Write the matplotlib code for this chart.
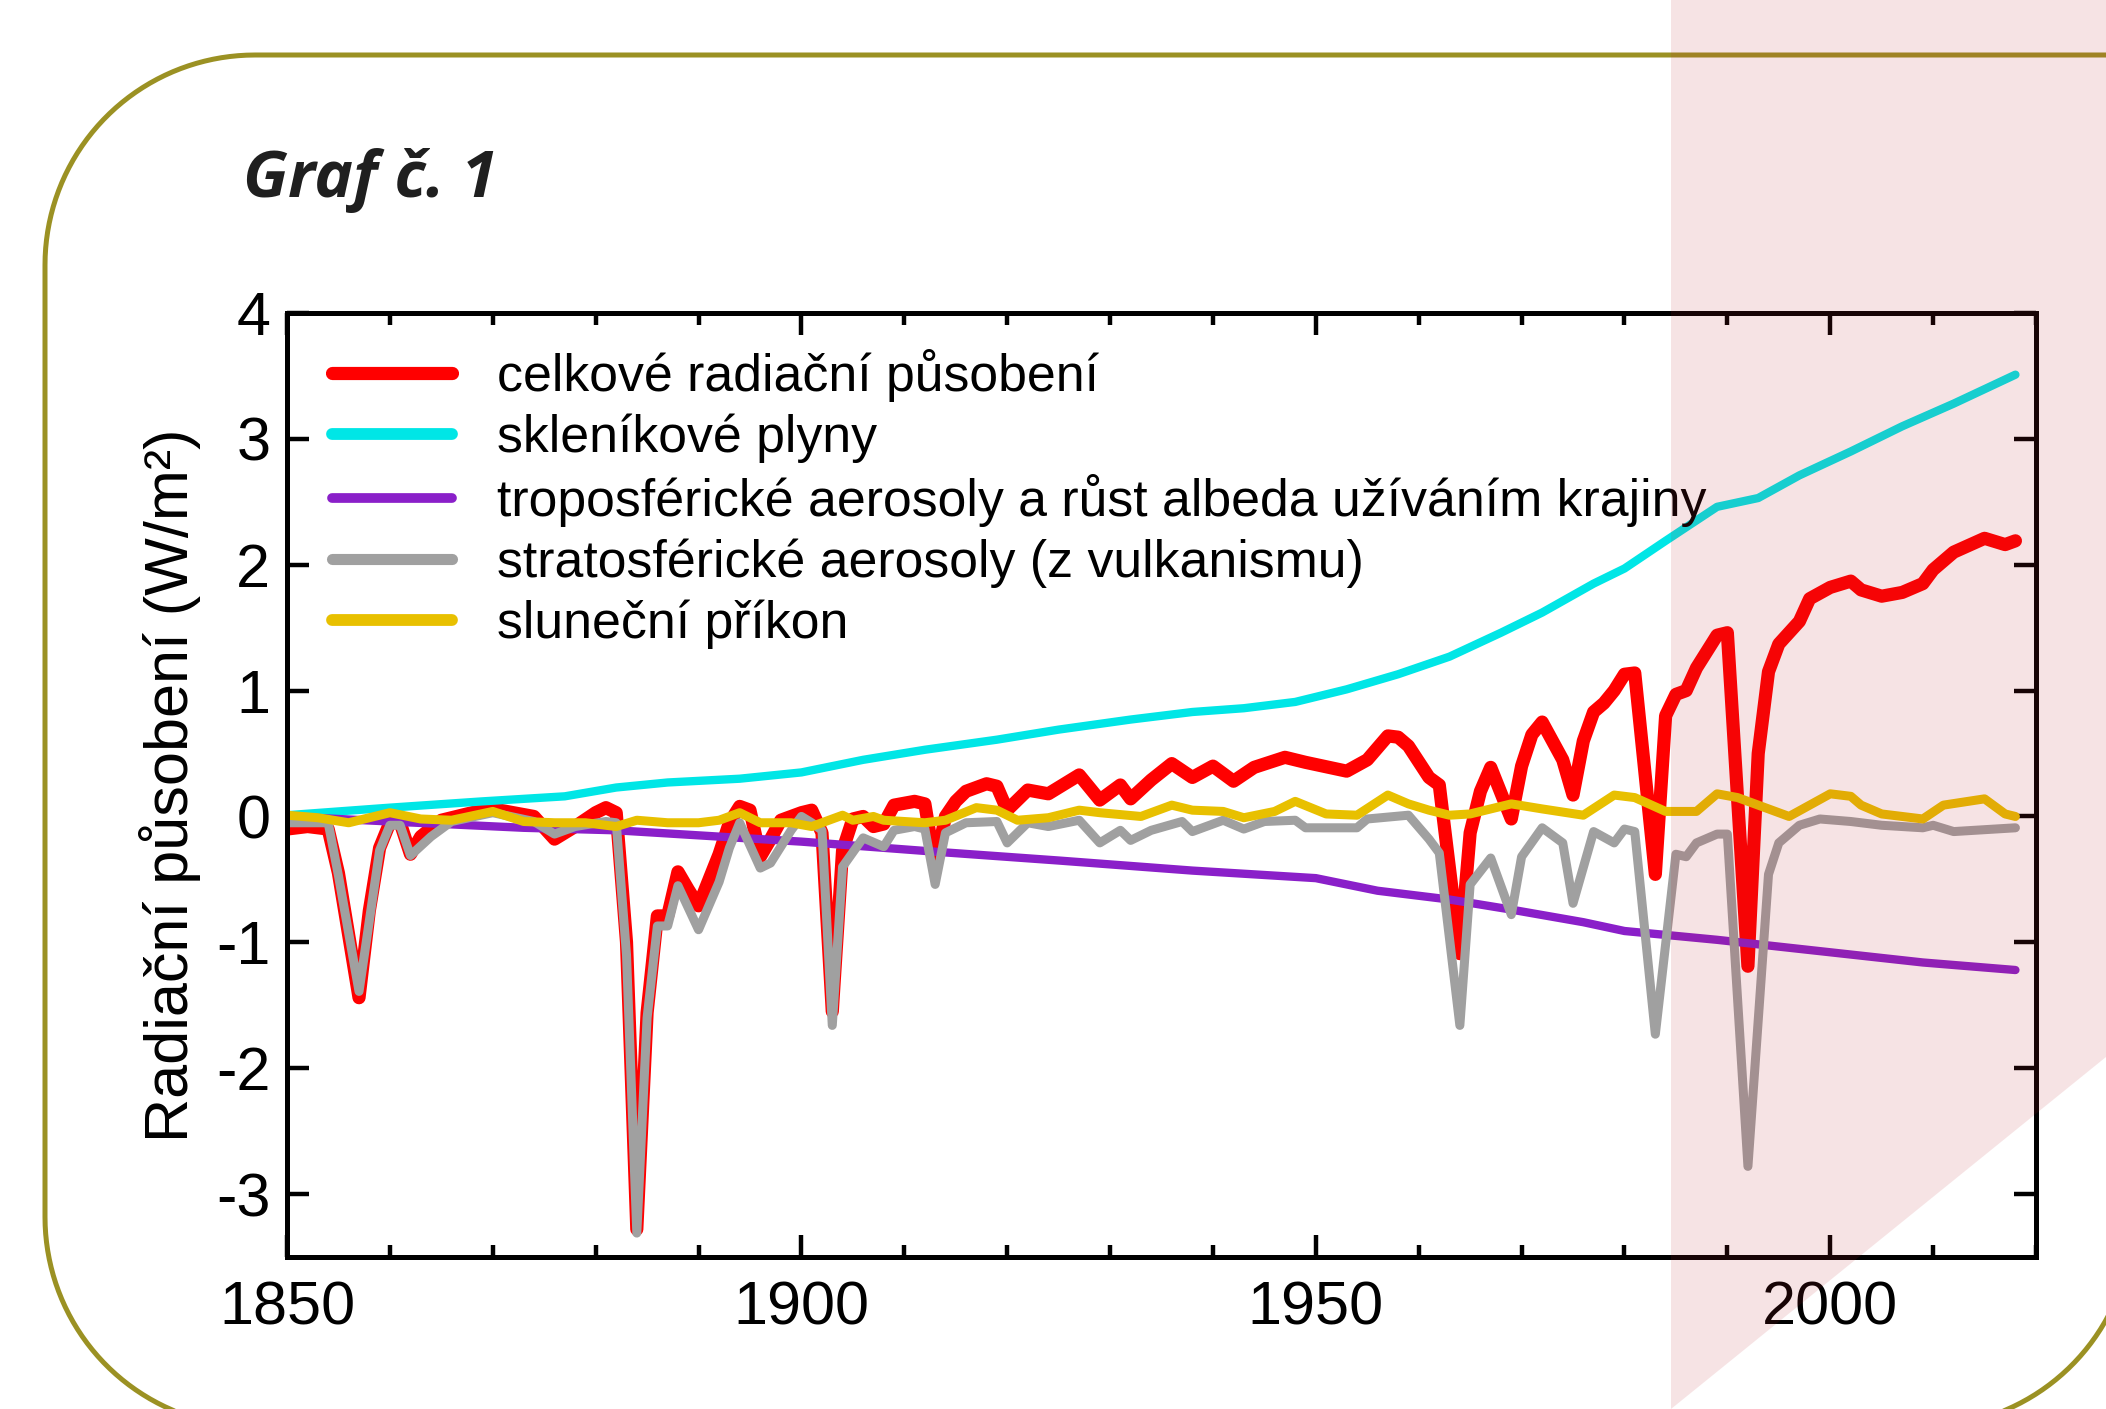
import numpy as np
import matplotlib
matplotlib.use('Agg')
import matplotlib.pyplot as plt
from matplotlib.lines import Line2D
from matplotlib.patches import Polygon
from matplotlib.transforms import IdentityTransform
from matplotlib.ticker import MultipleLocator

# celkove radiacni pusobeni
celk_roky = [1850, 1852, 1854, 1855, 1857, 1858, 1859, 1860, 1861, 1862, 1863, 1865, 1868, 1870,
             1872, 1874, 1876, 1878, 1880, 1881, 1882, 1883, 1884, 1885, 1886, 1887, 1888, 1889,
             1890, 1892, 1893, 1894, 1895, 1896, 1897, 1898, 1900, 1901, 1902, 1903, 1904, 1905,
             1906, 1907, 1908, 1909, 1911, 1912, 1913, 1914, 1915, 1916, 1918, 1919, 1920, 1922,
             1924, 1927, 1929, 1931, 1932, 1934, 1936, 1938, 1940, 1942, 1944, 1947, 1949, 1953,
             1955, 1957, 1958, 1959, 1961, 1962, 1964, 1965, 1966, 1967, 1969, 1970, 1971, 1972,
             1973, 1974, 1975, 1976, 1977, 1978, 1979, 1980, 1981, 1983, 1984, 1985, 1986, 1987,
             1989, 1990, 1992, 1993, 1994, 1995, 1997, 1998, 2000, 2002, 2003, 2005, 2007, 2009,
             2010, 2012, 2015, 2017, 2018]
celk = [-0.10, -0.08, -0.10, -0.45, -1.44, -0.75, -0.25, -0.05, -0.05, -0.30, -0.16, -0.03, 0.03, 0.06,
        0.03, 0.00, -0.18, -0.08, 0.03, 0.07, 0.03, -1.00, -3.28, -1.56, -0.79, -0.79, -0.44, -0.58,
        -0.71, -0.30, -0.05, 0.08, 0.05, -0.32, -0.18, -0.03, 0.03, 0.05, -0.13, -1.55, -0.27, -0.02,
        0.00, -0.08, -0.06, 0.09, 0.12, 0.10, -0.40, 0.00, 0.12, 0.20, 0.26, 0.24, 0.05, 0.21,
        0.18, 0.33, 0.13, 0.25, 0.14, 0.29, 0.42, 0.31, 0.40, 0.28, 0.39, 0.47, 0.43, 0.36,
        0.45, 0.64, 0.63, 0.56, 0.31, 0.25, -1.09, -0.13, 0.20, 0.39, -0.02, 0.40, 0.65, 0.75,
        0.60, 0.45, 0.17, 0.60, 0.83, 0.90, 1.00, 1.13, 1.14, -0.46, 0.80, 0.97, 1.00, 1.18,
        1.44, 1.46, -1.19, 0.50, 1.15, 1.37, 1.55, 1.73, 1.82, 1.87, 1.80, 1.75, 1.78, 1.85,
        1.96, 2.10, 2.21, 2.16, 2.19]

# sklenikove plyny
ghg_roky = [1850, 1860, 1869, 1877, 1882, 1887, 1894, 1900, 1906, 1912, 1919, 1925, 1932, 1938,
            1943, 1948, 1953, 1958, 1963, 1968, 1972, 1977, 1980, 1984, 1989, 1993, 1997, 2002,
            2007, 2012, 2018]
ghg = [0.01, 0.07, 0.12, 0.16, 0.23, 0.27, 0.30, 0.35, 0.45, 0.53, 0.61, 0.69, 0.77, 0.83,
       0.86, 0.91, 1.01, 1.13, 1.27, 1.46, 1.62, 1.85, 1.97, 2.19, 2.46, 2.53, 2.71, 2.90,
       3.10, 3.28, 3.51]

# troposfericke aerosoly + albedo
tropo_roky = [1850, 1860, 1873, 1882, 1892, 1900, 1913, 1925, 1938, 1950, 1956, 1963, 1969, 1976,
              1980, 1989, 1999, 2009, 2018]
tropo = [0.00, -0.04, -0.09, -0.11, -0.16, -0.20, -0.28, -0.35, -0.43, -0.49, -0.59, -0.66, -0.74, -0.84,
         -0.91, -0.98, -1.07, -1.16, -1.22]

# stratosfericke aerosoly (vulkany)
strato_roky = [1850, 1854, 1855, 1857, 1859, 1860, 1861, 1862, 1864, 1866, 1870, 1874, 1876, 1878,
               1881, 1882, 1883, 1884, 1885, 1886, 1887, 1888, 1890, 1892, 1893, 1894, 1896, 1897,
               1899, 1900, 1901, 1902, 1903, 1904, 1906, 1908, 1909, 1911, 1912, 1913, 1914, 1916,
               1919, 1920, 1922, 1924, 1927, 1929, 1931, 1932, 1934, 1937, 1938, 1941, 1943, 1945,
               1948, 1949, 1954, 1955, 1959, 1961, 1962, 1964, 1965, 1967, 1969, 1970, 1972, 1974,
               1975, 1977, 1979, 1980, 1981, 1983, 1985, 1986, 1987, 1989, 1990, 1992, 1994, 1995,
               1997, 1999, 2002, 2005, 2009, 2010, 2012, 2018]
strato = [-0.05, -0.05, -0.47, -1.39, -0.27, -0.07, -0.07, -0.31, -0.16, -0.04, 0.03, -0.04, -0.14, -0.08,
          -0.04, -0.05, -1.10, -3.31, -1.60, -0.87, -0.87, -0.55, -0.90, -0.52, -0.25, -0.05, -0.41, -0.37,
          -0.11, 0.00, -0.05, -0.11, -1.66, -0.40, -0.17, -0.24, -0.11, -0.08, -0.10, -0.54, -0.13, -0.05,
          -0.04, -0.21, -0.05, -0.08, -0.03, -0.21, -0.11, -0.19, -0.11, -0.04, -0.12, -0.03, -0.10, -0.04,
          -0.03, -0.09, -0.09, -0.02, 0.01, -0.18, -0.29, -1.66, -0.54, -0.33, -0.78, -0.32, -0.09, -0.21,
          -0.69, -0.12, -0.21, -0.10, -0.12, -1.73, -0.30, -0.32, -0.21, -0.14, -0.14, -2.78, -0.46, -0.21,
          -0.07, -0.02, -0.04, -0.07, -0.09, -0.07, -0.12, -0.09]

# slunecni prikon
slunce_roky = [1850, 1853, 1856, 1860, 1863, 1866, 1870, 1873, 1876, 1879, 1882, 1884, 1887, 1890,
               1892, 1894, 1896, 1899, 1901, 1904, 1905, 1907, 1908, 1912, 1914, 1917, 1919, 1921,
               1924, 1927, 1929, 1933, 1936, 1938, 1941, 1943, 1946, 1948, 1951, 1954, 1957, 1959,
               1961, 1963, 1965, 1969, 1972, 1976, 1979, 1981, 1984, 1987, 1989, 1991, 1996, 2000,
               2002, 2003, 2005, 2009, 2011, 2015, 2017, 2018]
slunce = [0.01, -0.01, -0.05, 0.03, -0.02, -0.03, 0.04, -0.04, -0.05, -0.05, -0.08, -0.03, -0.05, -0.05,
          -0.03, 0.03, -0.05, -0.05, -0.08, 0.01, -0.03, 0.00, -0.03, -0.05, -0.03, 0.07, 0.05, -0.03,
          -0.01, 0.05, 0.03, 0.00, 0.09, 0.05, 0.04, -0.01, 0.04, 0.12, 0.02, 0.01, 0.17, 0.10,
          0.05, 0.01, 0.02, 0.10, 0.06, 0.01, 0.17, 0.15, 0.04, 0.04, 0.18, 0.15, 0.00, 0.18,
          0.16, 0.09, 0.02, -0.02, 0.09, 0.14, 0.02, 0.00]

plt.rcParams['font.family'] = ['Liberation Sans', 'DejaVu Sans']
plt.rcParams['axes.unicode_minus'] = False

W, H = 2106, 1409
fig = plt.figure(figsize=(W / 100, H / 100), dpi=100, facecolor='white')
ax = fig.add_axes([287 / W, 1 - 1257 / H, (2036 - 287) / W, (1257 - 313) / H])

kw = dict(solid_joinstyle='round', solid_capstyle='round')
ax.plot(celk_roky, celk, color='#ff0000', lw=9.5, label='celkové radiační působení', **kw)
ax.plot(ghg_roky, ghg, color='#00e6e6', lw=6, label='skleníkové plyny', **kw)
ax.plot(tropo_roky, tropo, color='#8a1fc9', lw=6, label='troposférické aerosoly a růst albeda užíváním krajiny', **kw)
ax.plot(strato_roky, strato, color='#a0a0a0', lw=6.5, label='stratosférické aerosoly (z vulkanismu)', **kw)
ax.plot(slunce_roky, slunce, color='#e8c000', lw=6.5, label='sluneční příkon', **kw)

ax.set_xlim(1850, 2020)
ax.set_ylim(-3.5, 4)
ax.xaxis.set_major_locator(MultipleLocator(50))
ax.xaxis.set_minor_locator(MultipleLocator(10))
ax.yaxis.set_major_locator(MultipleLocator(1))
ax.tick_params(which='both', direction='in', top=True, right=True, width=3.2, labelsize=44)
ax.tick_params(which='major', length=16)
ax.tick_params(which='minor', length=8.5)
ax.tick_params(axis='x', pad=17)
ax.tick_params(axis='y', pad=12)
for s in ax.spines.values():
    s.set_linewidth(3.6)

ax.set_ylabel('Radiační působení (W/m²)', fontsize=44)
ax.yaxis.set_label_coords(-0.049, 0.5)

leg = ax.legend(loc='upper left', bbox_to_anchor=(0.026, 0.962), frameon=False, fontsize=37.3,
                handlelength=2.3, handletextpad=0.88, labelspacing=0.22, borderpad=0, borderaxespad=0)
for h, w in zip(leg.get_lines(), [9.5, 8.5, 7, 8, 8.5]):
    h.set_linewidth(w)

fig.text(243 / W, 1 - 197 / H, 'Graf č. 1', fontsize=47, fontweight='bold', fontstyle='italic',
         family=['Open Sans', 'DejaVu Sans'], color='#1f1f1f', va='baseline')

# ramecek: horni hrana jde az za okraj, rohy vlevo a dole vpravo zaoblene
r = 210
top, left, bottom, right = H - 55, 45, -18, 2133
t1 = np.linspace(np.pi / 2, np.pi, 40)
t2 = np.linspace(np.pi, 1.5 * np.pi, 40)
t3 = np.linspace(1.5 * np.pi, 2 * np.pi, 40)
xs = np.concatenate([[W + 50], left + r + r * np.cos(t1), left + r + r * np.cos(t2),
                     right - r + r * np.cos(t3)])
ys = np.concatenate([[top], top - r + r * np.sin(t1), bottom + r + r * np.sin(t2),
                     bottom + r + r * np.sin(t3)])
fig.add_artist(Line2D(xs, ys, transform=IdentityTransform(), color='#9b9123', lw=3.6,
                      solid_joinstyle='round'))

# ruzovy pruh vpravo
pruh = Polygon([(1671, H), (W, H), (W, 352), (1671, 0)], closed=True, transform=IdentityTransform(),
               facecolor='#bf272f', alpha=0.125, edgecolor='none', zorder=10)
fig.add_artist(pruh)

fig.savefig('out.png', dpi=100, facecolor='white')
